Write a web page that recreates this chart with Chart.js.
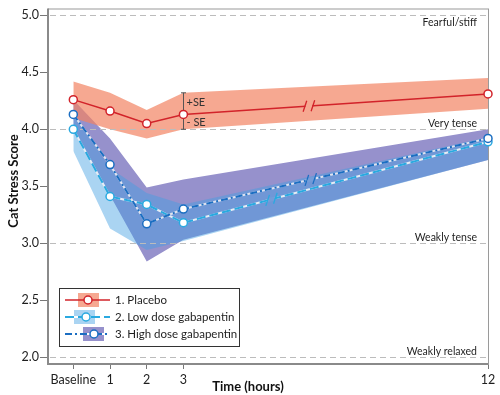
<!DOCTYPE html>
<html><head><meta charset="utf-8">
<script src="https://cdn.jsdelivr.net/npm/chart.js@4.4.1/dist/chart.umd.min.js"></script>
<style>html,body{margin:0;padding:0;background:#fff}#wrap{width:500px;height:395px;position:relative}</style>
</head><body><div id="wrap"><canvas id="c" width="500" height="395"></canvas></div>
<script>
// ---- data ----
const timeLabels = ['Baseline', '1', '2', '3', '12'];
const axisPos = [0, 1, 2, 3, 11.3]; // broken time axis: 12 h sits at 11.3 units
const yTickValues = [2.0, 2.5, 3.0, 3.5, 4.0, 4.5, 5.0];
const guideValues = [5, 4, 3, 2];
const guideLabels = ['Fearful/stiff', 'Very tense', 'Weakly tense', 'Weakly relaxed'];
const seriesNames = ['1. Placebo', '2. Low dose gabapentin', '3. High dose gabapentin'];

const placebo   = [4.26, 4.16, 4.05, 4.13, 4.31];
const placeboHi = [4.42, 4.32, 4.17, 4.32, 4.45];
const placeboLo = [4.10, 4.00, 3.92, 4.00, 4.18];

const lowDose   = [4.00, 3.41, 3.34, 3.18, 3.89];
const lowDoseHi = [4.14, 3.66, 3.44, 3.34, 3.93];
const lowDoseLo = [3.81, 3.13, 2.94, 3.02, 3.73];

const highDose   = [4.13, 3.69, 3.17, 3.30, 3.92];
const highDoseHi = [4.26, 3.92, 3.49, 3.56, 4.00];
const highDoseLo = [3.98, 3.42, 2.84, 3.03, 3.73];

// ---- styles ----
const FONT = 'Lato, "Open Sans", sans-serif';
const cRed = '#d2232a', cLow = '#2aa9e0', cHigh = '#1b6ec2';
const bandRed = 'rgba(242,131,98,0.7)';
const bandLow = 'rgba(66,160,227,0.45)';
const bandHigh = 'rgb(150,145,204)';
const dashLow = [9, 4], dashHigh = [7, 3, 2, 3];

const pts = arr => arr.map((v, i) => ({x: axisPos[i], y: v}));
const band = (arr, ord, fill, bg) => ({data: pts(arr), order: ord, borderWidth: 0, pointRadius: 0,
  fill: fill, backgroundColor: bg, tension: 0});

const datasets = [
  band(highDoseLo, 30, false, 'transparent'),
  band(highDoseHi, 29, 0, bandHigh),
  band(lowDoseLo, 28, false, 'transparent'),
  band(lowDoseHi, 27, 2, bandLow),
  band(placeboLo, 26, false, 'transparent'),
  band(placeboHi, 25, 4, bandRed),
  {data: pts(lowDose), order: 12, borderColor: '#e6edf5', borderWidth: 2, pointRadius: 0, fill: false},
  {data: pts(lowDose), order: 11, borderColor: cLow, borderWidth: 2, borderDash: dashLow, fill: false,
   pointRadius: 4, pointBackgroundColor: '#fff', pointBorderColor: cLow, pointBorderWidth: 1.5},
  {data: pts(highDose), order: 10, borderColor: '#dfe3ef', borderWidth: 2, pointRadius: 0, fill: false},
  {data: pts(highDose), order: 9, borderColor: cHigh, borderWidth: 2, borderDash: dashHigh, fill: false,
   pointRadius: 4, pointBackgroundColor: '#fff', pointBorderColor: cHigh, pointBorderWidth: 1.5},
  {data: pts(placebo), order: 5, borderColor: cRed, borderWidth: 1.5, fill: false,
   pointRadius: 4, pointBackgroundColor: '#fff', pointBorderColor: cRed, pointBorderWidth: 1.5}
];
datasets.forEach(d => { d.clip = false; d.tension = 0; d.pointHoverRadius = 0; });

function breakMark(ctx, xs, ys, xv, arr, color, gapColor) {
  const t = (xv - axisPos[3]) / (axisPos[4] - axisPos[3]);
  const yv = arr[3] + t * (arr[4] - arr[3]);
  const px = xs.getPixelForValue(xv), py = ys.getPixelForValue(yv);
  const dx = xs.getPixelForValue(axisPos[4]) - xs.getPixelForValue(axisPos[3]);
  const dy = ys.getPixelForValue(arr[4]) - ys.getPixelForValue(arr[3]);
  const len = Math.hypot(dx, dy), ux = dx / len, uy = dy / len;
  ctx.save();
  ctx.strokeStyle = gapColor; ctx.lineWidth = 4;
  ctx.beginPath(); ctx.moveTo(px - 3.5 * ux, py - 3.5 * uy); ctx.lineTo(px + 3.5 * ux, py + 3.5 * uy); ctx.stroke();
  ctx.strokeStyle = color; ctx.lineWidth = 1.3;
  [-4, 4].forEach(o => {
    const cx = px + o * ux, cy = py + o * uy;
    ctx.beginPath(); ctx.moveTo(cx - 1.8, cy + 5.5); ctx.lineTo(cx + 1.8, cy - 5.5); ctx.stroke();
  });
  ctx.restore();
}

function legendLine(ctx, y, color, dash, x0, x1) {
  if (dash) {
    ctx.setLineDash([]); ctx.strokeStyle = '#fff'; ctx.lineWidth = 2;
    ctx.beginPath(); ctx.moveTo(x0, y); ctx.lineTo(x1, y); ctx.stroke();
    ctx.setLineDash(dash);
  }
  ctx.strokeStyle = color; ctx.lineWidth = dash ? 2 : 1.5;
  ctx.beginPath(); ctx.moveTo(x0, y); ctx.lineTo(x1, y); ctx.stroke();
  ctx.setLineDash([]);
}

const deco = {
  id: 'deco',
  beforeDatasetsDraw(chart) {
    const {ctx, chartArea: a} = chart;
    ctx.save();
    ctx.strokeStyle = '#9a9a9a'; ctx.lineWidth = 1;
    ctx.strokeRect(a.left + 0.5, a.top + 0.5, a.right - a.left, a.bottom - a.top);
    ctx.strokeStyle = '#8a8a8a'; ctx.lineWidth = 2;
    ctx.beginPath(); ctx.moveTo(a.left, a.top); ctx.lineTo(a.left, a.bottom); ctx.lineTo(a.right, a.bottom); ctx.stroke();
    ctx.restore();
  },
  afterDatasetDraw(chart, args) {
    if (args.index !== 5) return;
    const {ctx, chartArea: a, scales: {x, y}} = chart;
    ctx.save();
    // dashed guide lines
    ctx.strokeStyle = '#bcbcbc'; ctx.lineWidth = 1; ctx.setLineDash([6, 4]);
    guideValues.forEach(v => {
      const py = Math.round(y.getPixelForValue(v)) + 0.5;
      ctx.beginPath(); ctx.moveTo(a.left + 2, py); ctx.lineTo(a.right - 2, py); ctx.stroke();
    });
    ctx.setLineDash([]);
    // guide labels
    ctx.fillStyle = '#1e1e1e'; ctx.font = '10.5px ' + FONT; ctx.textAlign = 'right'; ctx.textBaseline = 'middle';
    guideValues.forEach((v, i) => {
      const py = y.getPixelForValue(v);
      ctx.fillText(guideLabels[i], a.right - 11, i === 0 ? py + 7 : py - 6);
    });
    // SE bracket at 3 h
    const bx = Math.round(x.getPixelForValue(axisPos[3])) + 0.5;
    const yt = y.getPixelForValue(placeboHi[3]), yb = y.getPixelForValue(placeboLo[3]);
    const yp = y.getPixelForValue(placebo[3]);
    ctx.strokeStyle = '#555'; ctx.lineWidth = 1;
    ctx.beginPath(); ctx.moveTo(bx, yt); ctx.lineTo(bx, yb);
    ctx.moveTo(bx - 2.5, yt); ctx.lineTo(bx + 2.5, yt);
    ctx.moveTo(bx - 2.5, yb); ctx.lineTo(bx + 2.5, yb); ctx.stroke();
    ctx.fillStyle = '#333'; ctx.textAlign = 'left'; ctx.font = '11px ' + FONT;
    ctx.fillText('+SE', bx + 3, (yt + yp) / 2 - 1);
    ctx.fillText('- SE', bx + 3, (yp + yb) / 2 + 1);
    ctx.restore();
  },
  afterDatasetsDraw(chart) {
    const {ctx, scales: {x, y}} = chart;
    // axis break marks
    breakMark(ctx, x, y, 6.42, placebo, cRed, 'rgb(246,168,145)');
    breakMark(ctx, x, y, 5.4, lowDose, cLow, 'rgb(116,156,216)');
    breakMark(ctx, x, y, 6.47, highDose, cHigh, 'rgb(116,156,216)');
    // legend
    ctx.save();
    ctx.fillStyle = '#fff'; ctx.fillRect(59.5, 288.5, 180, 58);
    ctx.strokeStyle = '#333'; ctx.lineWidth = 1; ctx.strokeRect(59.5, 288.5, 180, 58);
    const rows = [300, 317, 334];
    const rectX = [78, 74, 83], circX = [88, 86, 94];
    const bands = [bandRed, bandLow, bandHigh], cols = [cRed, cLow, cHigh], dashes = [null, dashLow, dashHigh];
    rows.forEach((ry, i) => {
      ctx.fillStyle = bands[i]; ctx.fillRect(rectX[i], ry - 7, 21, 14);
      legendLine(ctx, ry, cols[i], dashes[i], 65, 110);
      ctx.beginPath(); ctx.arc(circX[i], ry, 4, 0, Math.PI * 2);
      ctx.fillStyle = '#fff'; ctx.fill(); ctx.strokeStyle = cols[i]; ctx.lineWidth = 1.5; ctx.stroke();
      ctx.fillStyle = '#1e1e1e'; ctx.font = '11.5px ' + FONT; ctx.textAlign = 'left'; ctx.textBaseline = 'middle';
      ctx.fillText(seriesNames[i], 115, ry + 0.5);
    });
    ctx.restore();
  },
  afterDraw(chart) {
    const {ctx} = chart;
    ctx.save();
    ctx.fillStyle = '#111'; ctx.font = 'bold 13px ' + FONT; ctx.textAlign = 'center'; ctx.textBaseline = 'middle';
    ctx.fillText('Time (hours)', 248, 387);
    ctx.translate(14, 181); ctx.rotate(-Math.PI / 2);
    ctx.fillText('Cat Stress Score', 0, 0);
    ctx.restore();
  }
};

new Chart(document.getElementById('c'), {
  type: 'line',
  data: {datasets},
  plugins: [deco],
  options: {
    responsive: false, animation: false, devicePixelRatio: 1,
    layout: {padding: {top: 3, right: 12, left: 0, bottom: 0}},
    plugins: {legend: {display: false}, tooltip: {enabled: false}},
    events: [],
    scales: {
      x: {
        type: 'linear', min: -0.69, max: axisPos[4],
        afterBuildTicks: s => { s.ticks = axisPos.map(v => ({value: v})); },
        afterFit: s => { s.height = 31; },
        ticks: {autoSkip: false, maxRotation: 0, padding: 3, color: '#1e1e1e', font: {family: FONT, size: 12.5},
          callback: (v, i) => timeLabels[i]},
        grid: {drawOnChartArea: false, drawTicks: true, tickLength: 5, tickColor: '#777', color: '#777'},
        border: {display: false}
      },
      y: {
        type: 'linear', min: 1.94, max: 5.06,
        afterBuildTicks: s => { s.ticks = yTickValues.map(v => ({value: v})); },
        afterFit: s => { s.width = 48; },
        ticks: {padding: 1, color: '#1e1e1e', font: {family: FONT, size: 12.5},
          callback: v => Number(v).toFixed(1)},
        grid: {drawOnChartArea: false, drawTicks: true, tickLength: 8, tickColor: '#777', color: '#777'},
        border: {display: false}
      }
    }
  }
});
</script></body></html>
